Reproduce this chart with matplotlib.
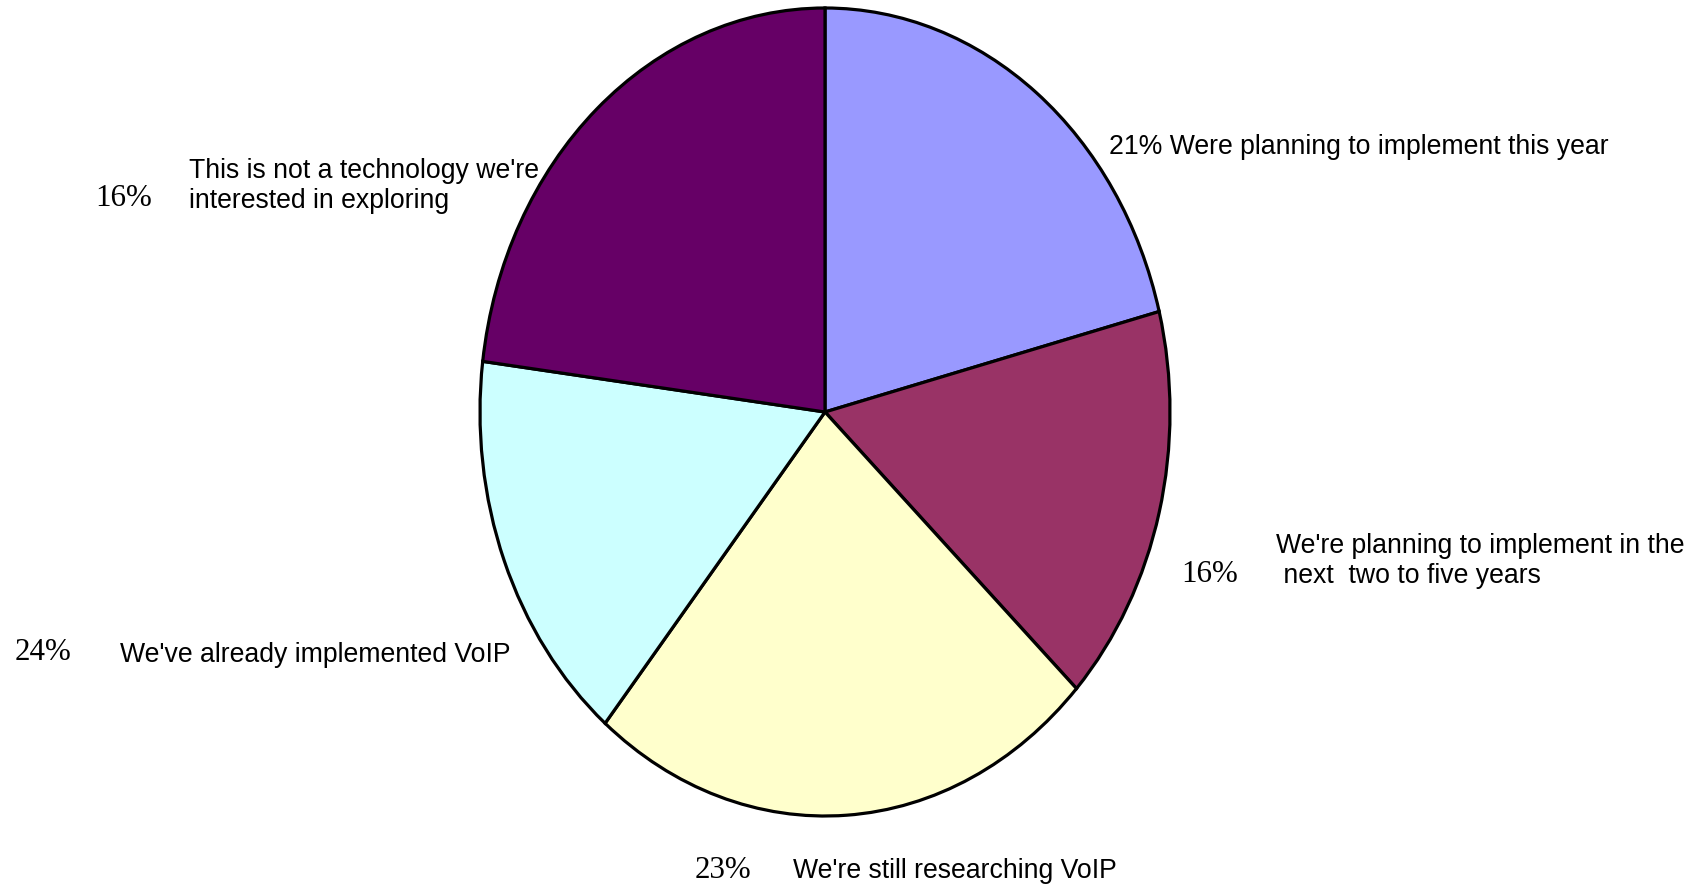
import matplotlib
matplotlib.use("Agg")
import matplotlib.pyplot as plt

# Slice sizes as drawn (clockwise from top)
slice_values = [21, 16, 24, 16, 23]
slice_colors = ["#9999FF", "#993366", "#FFFFCC", "#CCFFFF", "#660066"]

# Labels as printed in the chart
pct_labels = ["21%", "16%", "23%", "24%", "16%"]
text_labels = [
    "Were planning to implement this year",
    "We're planning to implement in the\n next  two to five years",
    "We're still researching VoIP",
    "We've already implemented VoIP",
    "This is not a technology we're\ninterested in exploring",
]

W, H = 1702, 884
fig = plt.figure(figsize=(W / 100, H / 100), dpi=100)
fig.patch.set_facecolor("white")

cx, cy = 825, 412
rx, ry = 345, 404
ax = fig.add_axes([(cx - rx) / W, (H - cy - ry) / H, 2 * rx / W, 2 * ry / H])
ax.pie(slice_values, colors=slice_colors, startangle=90, counterclock=False,
       wedgeprops=dict(edgecolor="black", linewidth=2.3))
ax.set_aspect("auto")
ax.set_xlim(-1, 1)
ax.set_ylim(-1, 1)
ax.axis("off")

sans = "Liberation Sans"
serif = "Liberation Serif"
fs_sans = 19.2
fs_serif = 22.3
ls = 1.18

def px(x, y):
    return x / W, 1 - y / H

# 21% top right (single line, sans)
fig.text(*px(1109, 147), pct_labels[0] + " " + text_labels[0], family=sans,
         fontsize=fs_sans, va="center", ha="left")
# 16% right
fig.text(*px(1181, 575), pct_labels[1], family=serif, fontsize=fs_serif, va="center", ha="left")
fig.text(*px(1276, 561), text_labels[1], family=sans, fontsize=fs_sans, va="center", ha="left",
         linespacing=ls)
# 23% bottom
fig.text(*px(695, 870), pct_labels[2], family=serif, fontsize=fs_serif, va="center", ha="left")
fig.text(*px(793, 871), text_labels[2], family=sans, fontsize=fs_sans, va="center", ha="left")
# 24% left
fig.text(*px(15, 652), pct_labels[3], family=serif, fontsize=fs_serif, va="center", ha="left")
fig.text(*px(120, 655), text_labels[3], family=sans, fontsize=fs_sans, va="center", ha="left")
# 16% top left
fig.text(*px(95, 198), pct_labels[4], family=serif, fontsize=fs_serif, va="center", ha="left")
fig.text(*px(189, 186), text_labels[4], family=sans, fontsize=fs_sans, va="center", ha="left",
         linespacing=ls)

fig.savefig("out.png", dpi=100, facecolor="white")
